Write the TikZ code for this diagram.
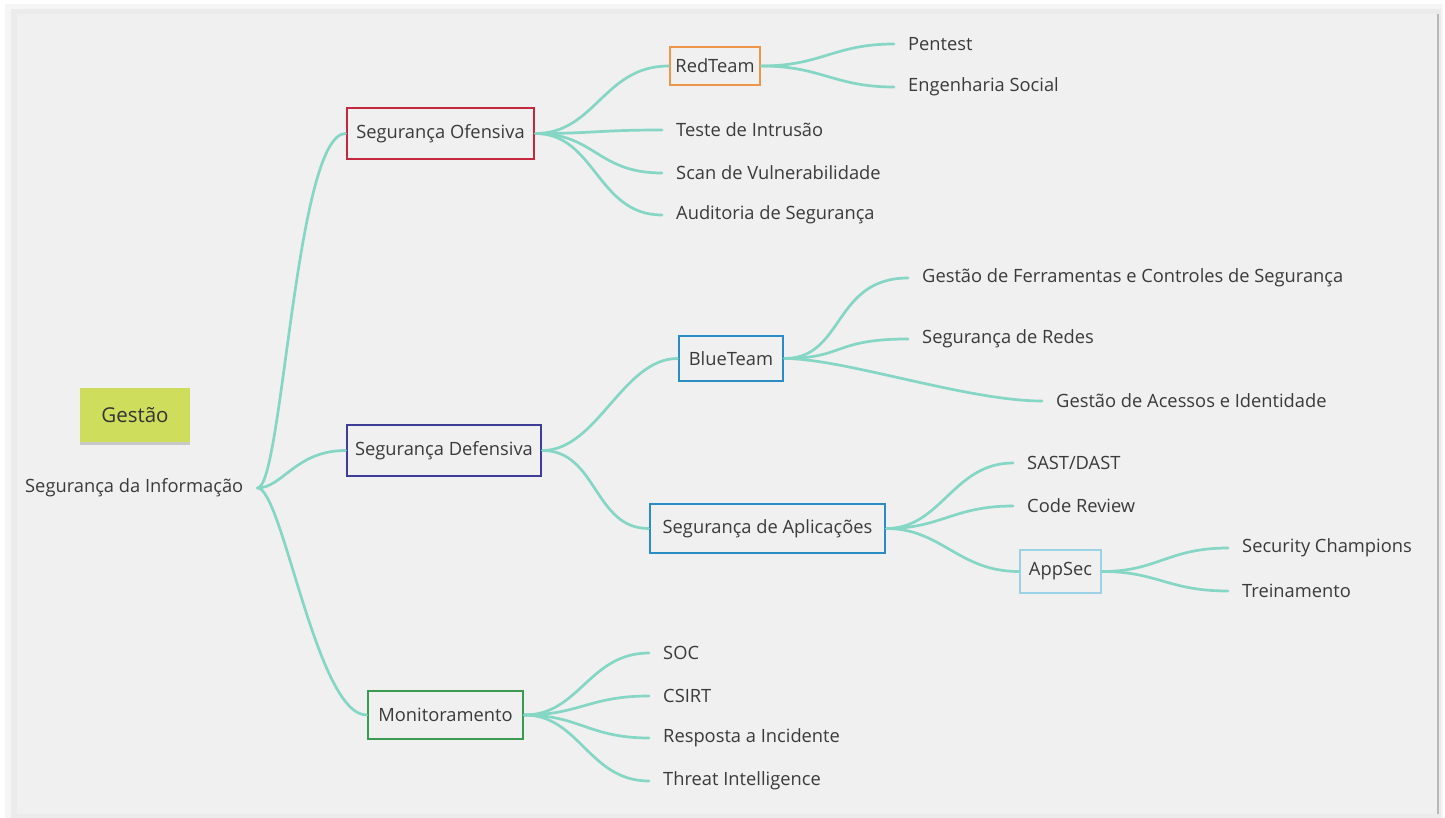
\documentclass[tikz,border=0pt]{standalone}
\usepackage{fontspec}
\setmainfont{Open Sans}
\usetikzlibrary{positioning, shadows}

\definecolor{panel}{HTML}{F0F0F0}
\definecolor{ink}{HTML}{3A3A3A}
\definecolor{twig}{HTML}{86D6C6}
\definecolor{ofered}{HTML}{C4283E}
\definecolor{defnavy}{HTML}{3D3D97}
\definecolor{mongreen}{HTML}{3A9A52}
\definecolor{redorange}{HTML}{EE9549}
\definecolor{bluesky}{HTML}{2A8CC4}
\definecolor{applight}{HTML}{9CD2E6}
\definecolor{sticky}{HTML}{CEDD5C}

\begin{document}
\begin{tikzpicture}[x=1pt, y=-1pt,
  box/.style={draw, line width=2.8pt, inner sep=0pt, text=ink, font=\fontsize{18.3}{21}\selectfont},
  leaf/.style={anchor=west, inner xsep=14pt, inner ysep=2pt, text=ink, font=\fontsize{18.3}{21}\selectfont},
  note/.style={fill=sticky, minimum width=110pt, minimum height=54pt, text=ink!90!black,
    font=\fontsize{20.5}{24}\selectfont, drop shadow={shadow xshift=0pt, shadow yshift=-3pt, opacity=0.35}},
  branch/.style={draw=twig, line width=2.7pt, line cap=round}
]
% frame
\useasboundingbox (0,0) rectangle (1445,818);
\fill[white] (0,0) rectangle (1445,818);
\fill[black!4] (5,4) rectangle (1443,818);
\fill[black!8] (11,9) rectangle (1441,818);
\fill[panel] (17,14) rectangle (1437,814);
\draw[black!28, line width=1.5pt] (1438,14) -- (1438,814);

% root and sticky
\node[note] (ges) at (135,415) {Gestão};
\node[leaf] (root) at (11,488) {Segurança da Informação};

% first level
\node[box, draw=ofered, minimum width=187pt, minimum height=51pt] (ofe) at (440.5,133.5) {Segurança Ofensiva};
\node[box, draw=defnavy, minimum width=194pt, minimum height=51pt] (def) at (444,450.5) {Segurança Defensiva};
\node[box, draw=mongreen, minimum width=155pt, minimum height=48pt] (mon) at (445.5,715) {Monitoramento};

% ofensiva
\node[box, draw=redorange, minimum width=90pt, minimum height=38pt] (red) at (715,66) {RedTeam};
\node[leaf] (tst) at (662,130) {Teste de Intrusão};
\node[leaf] (scn) at ([yshift=-43pt]tst.west) {Scan de Vulnerabilidade};
\node[leaf] (aud) at ([yshift=-42pt]scn.west) {Auditoria de Segurança};
\node[leaf] (pen) at (894,44) {Pentest};
\node[leaf] (eng) at ([yshift=-43pt]pen.west) {Engenharia Social};

% defensiva
\node[box, draw=bluesky, minimum width=104pt, minimum height=45pt] (blue) at (731,358.5) {BlueTeam};
\node[box, draw=bluesky, minimum width=235pt, minimum height=49pt] (apl) at (767.5,528.5) {Segurança de Aplicações};
\node[leaf] (gfc) at (908,278) {Gestão de Ferramentas e Controles de Segurança};
\node[leaf] (rds) at (908,339) {Segurança de Redes};
\node[leaf] (gai) at (1042,401) {Gestão de Acessos e Identidade};
\node[leaf] (sast) at (1013,463) {SAST/DAST};
\node[leaf] (crv) at ([yshift=-43pt]sast.west) {Code Review};
\node[box, draw=applight, minimum width=81pt, minimum height=43pt] (aps) at (1060.5,571.5) {AppSec};
\node[leaf] (sch) at (1228,548) {Security Champions};
\node[leaf] (tre) at ([yshift=-43pt]sch.west) {Treinamento};

% monitoramento
\node[leaf] (soc) at (649,653) {SOC};
\node[leaf] (csi) at ([yshift=-43pt]soc.west) {CSIRT};
\node[leaf] (rsp) at ([yshift=-42pt]csi.west) {Resposta a Incidente};
\node[leaf] (thr) at ([yshift=-43pt]rsp.west) {Threat Intelligence};

% branches
\foreach \k in {ofe,def,mon}
  \draw[branch] (root.east) .. controls +(25,0) and +(-50,0) .. (\k.west);
\foreach \k in {red,tst,scn,aud}
  \draw[branch] (ofe.east) .. controls +(60,0) and +(-65,0) .. (\k.west);
\foreach \k in {pen,eng}
  \draw[branch] (red.east) .. controls +(60,0) and +(-60,0) .. (\k.west);
\foreach \k in {blue,apl}
  \draw[branch] (def.east) .. controls +(55,0) and +(-55,0) .. (\k.west);
\foreach \k in {gfc,rds,gai}
  \draw[branch] (blue.east) .. controls +(60,0) and +(-75,0) .. (\k.west);
\foreach \k in {sast,crv,aps}
  \draw[branch] (apl.east) .. controls +(55,0) and +(-60,0) .. (\k.west);
\foreach \k in {sch,tre}
  \draw[branch] (aps.east) .. controls +(55,0) and +(-60,0) .. (\k.west);
\foreach \k in {soc,csi,rsp,thr}
  \draw[branch] (mon.east) .. controls +(55,0) and +(-60,0) .. (\k.west);
\end{tikzpicture}
\end{document}
